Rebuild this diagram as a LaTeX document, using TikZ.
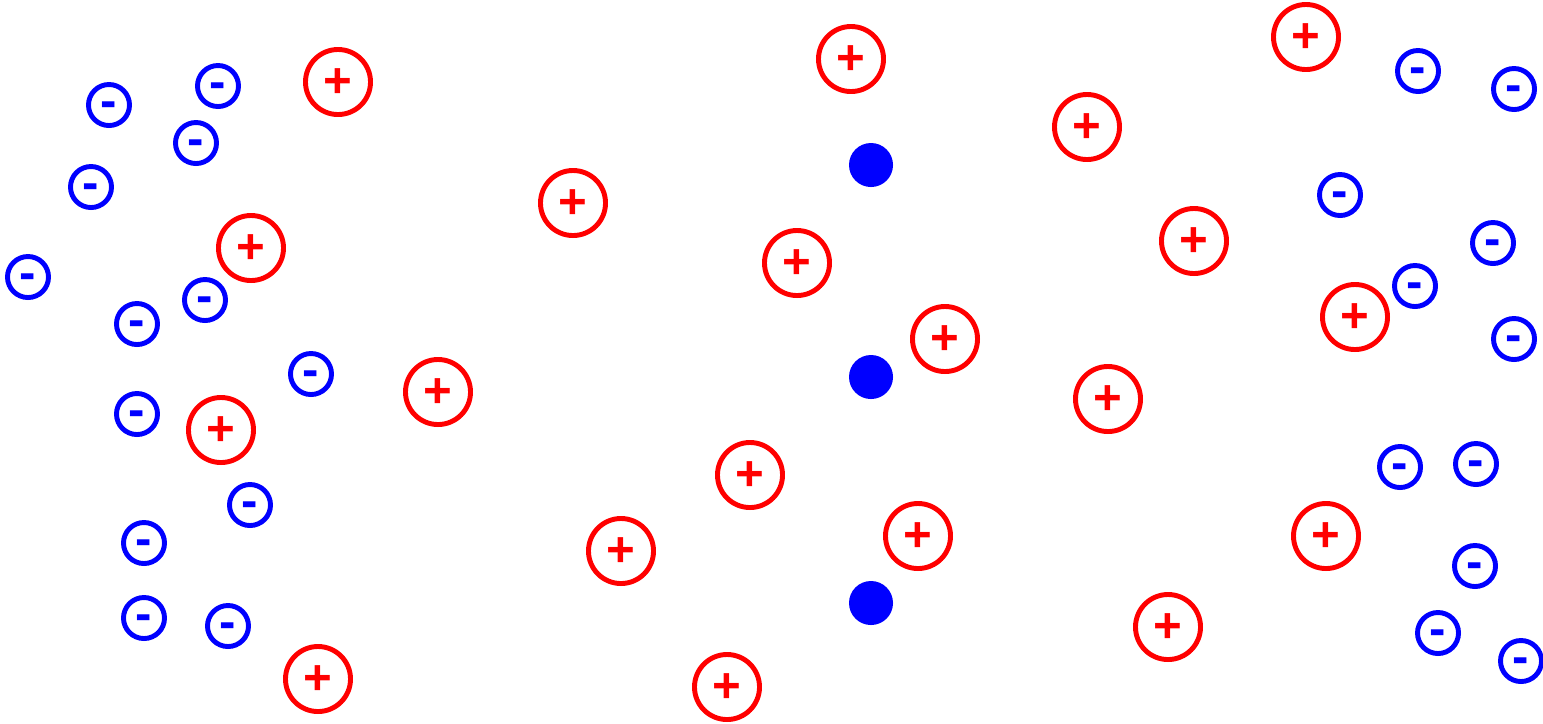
\documentclass[tikz,border=0pt]{standalone}
\usepackage{fontspec}
\setmainfont{Liberation Sans}
\usepackage{xcolor}
\usepackage{tikz}
\usetikzlibrary{positioning}

\tikzset{
  cation/.style={circle, draw=red, line width=1.4pt, minimum size=0.65cm, inner sep=0pt,
    text=red, font=\fontsize{14}{14}\selectfont\bfseries, text height=0.86em, text depth=0em},
  anion/.style={circle, draw=blue, line width=1.4pt, minimum size=0.41cm, inner sep=0pt,
    text=blue, font=\fontsize{14}{14}\selectfont\bfseries, text height=0.7em, text depth=0em},
  sink/.style={circle, fill=blue, minimum size=0.44cm, inner sep=0pt}
}

\begin{document}
\begin{tikzpicture}[x=0.01cm, y=-0.01cm]
        \useasboundingbox (0,0) rectangle (1543,723);

        % positive ions
        \foreach \i/\x/\y in {1/338/82, 2/251/248, 3/221/430, 4/438/392, 5/318/679,
            6/573/203, 7/851/59, 8/797/263, 9/945/339, 10/750/475, 11/621/551,
            12/918/536, 13/727/687, 14/1087/127, 15/1194/241, 16/1108/399,
            17/1168/627, 18/1306/37, 19/1355/317, 20/1326/536} {
          \node[cation] (p\i) at (\x,\y) {+};
        }

        % negative ions
        \foreach \i/\x/\y in {1/218/86, 2/109/105, 3/196/143, 4/91/187, 5/28/277,
            6/205/300, 7/137/324, 8/311/374, 9/137/414, 10/250/505, 11/144/543,
            12/144/618, 13/228/626, 14/1418/71, 15/1514/89, 16/1340/195,
            17/1493/243, 18/1415/286, 19/1514/339, 20/1400/467, 21/1476/464,
            22/1475/566, 23/1438/633, 24/1521/661} {
          \node[anion] (n\i) at (\x,\y) {-};
        }

        % fixed charges
        \foreach \i/\y in {1/165, 2/377, 3/603} {
          \node[sink] (s\i) at (871,\y) {};
        }
      \end{tikzpicture}
\end{document}
